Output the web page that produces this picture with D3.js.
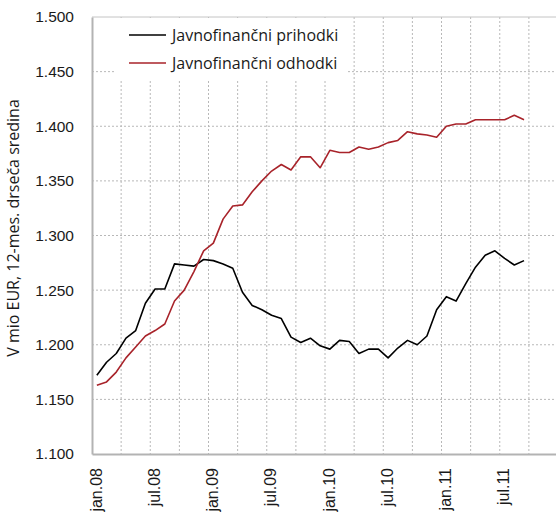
<!DOCTYPE html>
<html>
<head>
<meta charset="utf-8">
<script src="https://cdn.jsdelivr.net/npm/d3@7"></script>
<style>
    body { margin: 0; background: #fff; }
    svg { display: block; font-family: "Open Sans", sans-serif; }
</style>
</head>
<body>
<div id="chart"></div>
<script>
// months on the category axis (jan.08 - dec.11)
const months = [
    'jan.08','feb.08','mar.08','apr.08','maj.08','jun.08','jul.08','avg.08','sep.08','okt.08','nov.08','dec.08',
    'jan.09','feb.09','mar.09','apr.09','maj.09','jun.09','jul.09','avg.09','sep.09','okt.09','nov.09','dec.09',
    'jan.10','feb.10','mar.10','apr.10','maj.10','jun.10','jul.10','avg.10','sep.10','okt.10','nov.10','dec.10',
    'jan.11','feb.11','mar.11','apr.11','maj.11','jun.11','jul.11','avg.11','sep.11','okt.11','nov.11','dec.11'
];
const tickLabels = ['jan.08','jul.08','jan.09','jul.09','jan.10','jul.10','jan.11','jul.11'];
const yTicks = [1100, 1150, 1200, 1250, 1300, 1350, 1400, 1450, 1500];

// V mio EUR, 12-mesecna drseca sredina
const prihodki = [
    1172, 1184, 1192, 1206, 1213, 1238, 1251, 1251, 1274, 1273, 1272, 1278,
    1277, 1274, 1270, 1248, 1236, 1232, 1227, 1224, 1207, 1202, 1206, 1199,
    1196, 1204, 1203, 1192, 1196, 1196, 1188, 1197, 1204, 1200, 1208, 1232,
    1244, 1240, 1256, 1271, 1282, 1286, 1279, 1273, 1277
];
const odhodki = [
    1163, 1166, 1175, 1188, 1198, 1208, 1213, 1219, 1240, 1250, 1267, 1286,
    1293, 1315, 1327, 1328, 1340, 1350, 1359, 1365, 1360, 1372, 1372, 1362,
    1378, 1376, 1376, 1381, 1379, 1381, 1385, 1387, 1395, 1393, 1392, 1390,
    1400, 1402, 1402, 1406, 1406, 1406, 1406, 1410, 1406
];
const seriesNames = ['Javnofinančni prihodki', 'Javnofinančni odhodki'];
const seriesColors = ['#000000', '#a8232a'];

const width = 556, height = 512;
const margin = {top: 17, bottom: 58, left: 92, right: -2}; // plot runs just past the right edge

const svg = d3.select('#chart').append('svg')
    .attr('width', width)
    .attr('height', height);

const x = d3.scaleBand(months, [margin.left, width - margin.right]);
const y = d3.scaleLinear([1100, 1500], [height - margin.bottom, margin.top]);

const fmt = d3.formatLocale({decimal: ',', thousands: '.', grouping: [3], currency: ['', '']}).format(',d');

// dotted grid
const gridColor = '#b8b8b8';
svg.append('g')
    .selectAll('line')
    .data(yTicks.filter(d => d > 1100 && d < 1500))
    .join('line')
    .attr('x1', margin.left).attr('x2', width)
    .attr('y1', d => y(d)).attr('y2', d => y(d))
    .attr('stroke', gridColor)
    .attr('stroke-dasharray', '2,2');

svg.append('g')
    .selectAll('line')
    .data(months.filter((_, i) => i > 0 && i % 3 === 0))
    .join('line')
    .attr('x1', d => x(d)).attr('x2', d => x(d))
    .attr('y1', margin.top).attr('y2', height - margin.bottom)
    .attr('stroke', gridColor)
    .attr('stroke-dasharray', '2,2');

// top border
svg.append('line')
    .attr('x1', margin.left).attr('x2', width)
    .attr('y1', margin.top).attr('y2', margin.top)
    .attr('stroke', '#c4c4c4');

// legend background covers the grid
svg.append('rect')
    .attr('x', 116).attr('y', margin.top + 1)
    .attr('width', 232).attr('height', 61)
    .attr('fill', '#fff');

// axes
const axisY = svg.append('g')
    .attr('transform', `translate(${margin.left},0)`)
    .call(d3.axisLeft(y).tickValues(yTicks).tickFormat(fmt).tickSize(0).tickPadding(18));
const axisX = svg.append('g')
    .attr('transform', `translate(0,${height - margin.bottom})`)
    .call(d3.axisBottom(x).tickValues(tickLabels).tickSize(0));

[axisY, axisX].forEach(a => {
    a.select('.domain').attr('stroke', '#b3b3b3').attr('stroke-width', 2);
    a.selectAll('text').attr('fill', '#1a1a1a').style('font-size', '15.5px');
});
axisX.selectAll('text')
    .style('font-size', '16px')
    .attr('transform', 'rotate(-90)')
    .style('text-anchor', 'end')
    .attr('x', -14)
    .attr('y', 0)
    .attr('dy', '0.3em');

// y title
svg.append('text')
    .attr('transform', `translate(19, 228) rotate(-90)`)
    .style('text-anchor', 'middle')
    .style('font-size', '16px')
    .attr('fill', '#1a1a1a')
    .text('V mio EUR, 12-mes. drseča sredina');

// lines
const line = d3.line()
    .x((d, i) => x(months[i]) + x.bandwidth() / 2)
    .y(d => y(d));

[prihodki, odhodki].forEach((s, k) => {
    svg.append('path')
        .datum(s)
        .attr('fill', 'none')
        .attr('stroke', seriesColors[k])
        .attr('stroke-width', 1.6)
        .attr('stroke-linejoin', 'round')
        .attr('d', line);
});

// legend items
const legend = svg.append('g')
    .selectAll('g')
    .data(seriesNames)
    .join('g')
    .attr('transform', (_, i) => `translate(129, ${35 + i * 28})`);
legend.append('line')
    .attr('x1', 0).attr('x2', 37)
    .attr('stroke', (_, i) => seriesColors[i])
    .attr('stroke-width', 1.6);
legend.append('text')
    .attr('x', 43)
    .attr('dy', '0.35em')
    .style('font-size', '16px')
    .attr('fill', '#1a1a1a')
    .text(d => d);
</script>
</body>
</html>
